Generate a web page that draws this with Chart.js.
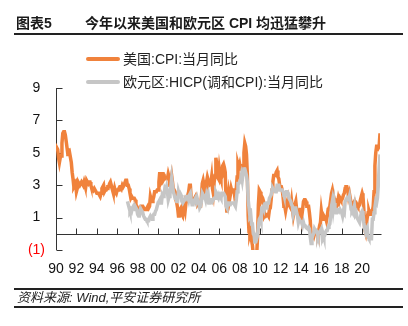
<!DOCTYPE html>
<html>
<head>
<meta charset="utf-8">
<script src="https://cdn.jsdelivr.net/npm/chart.js@4"></script>
<style>
  html, body { margin:0; padding:0; background:#fff; }
  body { width:408px; height:326px; position:relative; overflow:hidden;
         font-family:"Liberation Sans", Arial, "Noto Sans CJK SC", sans-serif; color:#1a1a1a; }
  #c { position:absolute; left:0; top:0; }
  .abs { position:absolute; white-space:nowrap; }
  .rule { position:absolute; background:#222; }
  .sw { position:absolute; height:4px; border-radius:2px; }
</style>
</head>
<body>
<canvas id="c" width="408" height="326"></canvas>

<div class="abs" style="left:16px;top:14px;font-weight:bold;font-size:14px;line-height:18px;">图表5</div>
<div class="abs" style="left:85px;top:14px;font-weight:bold;font-size:14px;line-height:18px;">今年以来美国和欧元区 CPI 均迅猛攀升</div>
<div class="rule" style="left:14px;top:33px;width:389px;height:2px;"></div>

<div class="sw" style="left:86px;top:57px;width:34px;background:#F0823C;"></div>
<div class="abs" id="lg1" style="left:123px;top:50px;font-size:14px;line-height:18px;color:#222;"></div>
<div class="sw" style="left:86px;top:80px;width:34px;background:#C6C6C6;"></div>
<div class="abs" id="lg2" style="left:123px;top:73px;font-size:14px;line-height:18px;color:#222;"></div>

<div class="rule" style="left:14px;top:288px;width:389px;height:2px;"></div>
<div class="abs" style="left:17px;top:290px;font-size:13px;line-height:16px;font-style:italic;color:#222;">资料来源: Wind,平安证券研究所</div>
<div class="rule" style="left:14px;top:306px;width:389px;height:2px;"></div>

<script>
// ---- Data ----
const seriesNames = ['美国:CPI:当月同比', '欧元区:HICP(调和CPI):当月同比'];
const usStartYear = 1990;   // monthly, from Jan
const euStartYear = 1997;   // monthly, from Jan
const usCpi = [
  5.2,5.3,5.2,4.7,4.4,4.7,4.8,5.6,6.2,6.3,6.3,6.1,
  5.7,5.3,4.9,4.9,5.0,4.7,4.4,3.8,3.4,2.9,3.0,3.1,
  2.6,2.8,3.2,3.2,3.0,3.1,3.2,3.1,3.0,3.2,3.0,2.9,
  3.3,3.2,3.1,3.2,3.2,3.0,2.8,2.8,2.7,2.8,2.7,2.7,
  2.5,2.5,2.5,2.4,2.3,2.5,2.8,2.9,3.0,2.6,2.7,2.7,
  2.8,2.9,2.9,3.1,3.2,3.0,2.8,2.6,2.5,2.8,2.6,2.5,
  2.7,2.7,2.8,2.9,2.9,2.8,3.0,2.9,3.0,3.0,3.3,3.3,
  3.0,3.0,2.8,2.5,2.2,2.3,2.2,2.2,2.2,2.1,1.8,1.7,
  1.6,1.4,1.4,1.4,1.7,1.7,1.7,1.6,1.5,1.5,1.5,1.6,
  1.7,1.6,1.7,2.3,2.1,2.0,2.1,2.3,2.6,2.6,2.6,2.7,
  2.7,3.2,3.8,3.1,3.2,3.7,3.7,3.4,3.5,3.4,3.4,3.4,
  3.7,3.5,2.9,3.3,3.6,3.2,2.7,2.7,2.6,2.1,1.9,1.6,
  1.1,1.1,1.5,1.6,1.2,1.1,1.5,1.8,1.5,2.0,2.2,2.4,
  2.6,3.0,3.0,2.2,2.1,2.1,2.1,2.2,2.3,2.0,1.8,1.9,
  1.9,1.7,1.7,2.3,3.1,3.3,3.0,2.7,2.5,3.2,3.5,3.3,
  3.0,3.0,3.1,3.5,2.8,2.5,3.2,3.6,4.7,4.3,3.5,3.4,
  4.0,3.6,3.4,3.5,4.2,4.3,4.1,3.8,2.1,1.3,2.0,2.5,
  2.1,2.4,2.8,2.6,2.7,2.7,2.4,2.0,2.8,3.5,4.3,4.1,
  4.3,4.0,4.0,3.9,4.2,5.0,5.6,5.4,4.9,3.7,1.1,0.1,
  0.0,0.2,-0.4,-0.7,-1.3,-1.4,-2.1,-1.5,-1.3,-0.2,1.8,2.7,
  2.6,2.1,2.3,2.2,2.0,1.1,1.2,1.1,1.1,1.2,1.1,1.5,
  1.6,2.1,2.7,3.2,3.6,3.6,3.6,3.8,3.9,3.5,3.4,3.0,
  2.9,2.9,2.7,2.3,1.7,1.7,1.4,1.7,2.0,2.2,1.8,1.7,
  1.6,2.0,1.5,1.1,1.4,1.8,2.0,1.5,1.2,1.0,1.2,1.5,
  1.6,1.1,1.5,2.0,2.1,2.1,2.0,1.7,1.7,1.7,1.3,0.8,
  -0.1,0.0,-0.1,-0.2,0.0,0.1,0.2,0.2,0.0,0.2,0.5,0.7,
  1.4,1.0,0.9,1.1,1.0,1.0,0.8,1.1,1.5,1.6,1.7,2.1,
  2.5,2.7,2.4,2.2,1.9,1.6,1.7,1.9,2.2,2.0,2.2,2.1,
  2.1,2.2,2.4,2.5,2.8,2.9,2.9,2.7,2.3,2.5,2.2,1.9,
  1.6,1.5,1.9,2.0,1.8,1.6,1.8,1.7,1.7,1.8,2.1,2.3,
  2.5,2.3,1.5,0.3,0.1,0.6,1.0,1.3,1.4,1.2,1.2,1.4,
  1.4,1.7,2.6,4.2,5.0,5.4,5.4,5.3,5.4,6.2
];
const euHicp = [
  2.0,1.8,1.6,1.4,1.5,1.4,1.6,1.7,1.6,1.5,1.6,1.5,
  1.2,1.1,1.1,1.4,1.3,1.4,1.3,1.1,1.0,0.9,0.9,0.8,
  0.8,0.8,1.0,1.1,1.0,0.9,1.1,1.2,1.2,1.4,1.5,1.7,
  1.9,2.0,2.1,1.9,1.9,2.4,2.3,2.4,2.8,2.7,2.9,2.6,
  2.1,2.3,2.4,2.9,3.4,3.0,2.6,2.4,2.2,2.3,2.0,2.0,
  2.6,2.4,2.5,2.4,2.0,1.9,2.0,2.1,2.1,2.3,2.3,2.3,
  2.1,2.4,2.5,2.1,1.8,1.9,1.9,2.1,2.2,2.0,2.2,2.0,
  1.9,1.6,1.7,2.0,2.5,2.4,2.3,2.3,2.1,2.4,2.2,2.4,
  1.9,2.1,2.1,2.1,2.0,2.1,2.2,2.2,2.6,2.5,2.3,2.2,
  2.4,2.3,2.2,2.5,2.5,2.5,2.4,2.3,1.7,1.6,1.9,1.9,
  1.8,1.8,1.9,1.9,1.9,1.9,1.8,1.7,2.1,2.6,3.1,3.1,
  3.2,3.3,3.6,3.3,3.7,4.0,4.0,3.8,3.6,3.2,2.1,1.6,
  1.1,1.2,0.6,0.6,0.0,-0.1,-0.6,-0.2,-0.3,-0.1,0.5,0.9,
  1.0,0.8,1.6,1.6,1.7,1.5,1.7,1.6,1.9,1.9,1.9,2.2,
  2.3,2.4,2.7,2.8,2.7,2.7,2.6,2.6,3.0,3.0,3.0,2.7,
  2.7,2.7,2.7,2.6,2.4,2.4,2.4,2.6,2.6,2.5,2.2,2.2,
  2.0,1.8,1.7,1.2,1.4,1.6,1.6,1.3,1.1,0.7,0.9,0.8,
  0.8,0.7,0.5,0.7,0.5,0.5,0.4,0.4,0.3,0.4,0.3,-0.2,
  -0.6,-0.3,-0.1,0.0,0.3,0.2,0.2,0.1,-0.1,0.1,0.1,0.2,
  0.3,-0.2,0.0,-0.2,-0.1,0.1,0.2,0.2,0.4,0.5,0.6,1.1,
  1.7,2.0,1.5,1.9,1.4,1.3,1.3,1.5,1.5,1.4,1.5,1.4,
  1.3,1.1,1.4,1.3,2.0,2.0,2.2,2.1,2.1,2.3,1.9,1.5,
  1.4,1.5,1.4,1.7,1.2,1.3,1.0,1.0,0.8,0.7,1.0,1.3,
  1.4,1.2,0.7,0.3,0.1,0.3,0.4,-0.2,-0.3,-0.3,-0.3,-0.3,
  0.9,0.9,1.3,1.6,2.0,1.9,2.2,3.0,4.1,4.9
];
const tickLabels = ['90','92','94','96','98','00','02','04','06','08','10','12','14','16','18','20'];
const yTickValues = [-1, 1, 3, 5, 7, 9];

// ---- build ----
const tickYears = tickLabels.map((_, i) => 1990 + 2 * i);
const toPoints = (arr, start) => arr.map((v, i) => ({ x: start + i / 12, y: v }));
document.getElementById('lg1').textContent = seriesNames[0];
document.getElementById('lg2').textContent = seriesNames[1];

const FONT = '"Liberation Sans", Arial, sans-serif';

const axesPlugin = {
  id: 'customAxes',
  beforeDatasetsDraw(chart) {
    const { ctx, chartArea: a, scales: { x, y } } = chart;
    ctx.save();
    ctx.strokeStyle = '#333';
    ctx.lineWidth = 1;
    ctx.beginPath();
    const ax = Math.round(a.left) + 0.5;
    ctx.moveTo(ax, y.getPixelForValue(9));
    ctx.lineTo(ax, y.getPixelForValue(-1));
    yTickValues.forEach(v => {
      const py = Math.round(y.getPixelForValue(v)) + 0.5;
      ctx.moveTo(ax, py); ctx.lineTo(ax + 6, py);
    });
    const y0 = Math.round(y.getPixelForValue(0)) + 0.5;
    ctx.moveTo(ax, y0); ctx.lineTo(a.right + 1.5, y0);
    tickYears.forEach(v => {
      if (v === 1990) return;
      const px = Math.round(x.getPixelForValue(v)) + 0.5;
      ctx.moveTo(px, y0); ctx.lineTo(px, y0 - 6);
    });
    ctx.stroke();
    ctx.restore();
  }
};

new Chart(document.getElementById('c'), {
  type: 'line',
  data: {
    datasets: [
      { label: seriesNames[0], data: toPoints(usCpi, usStartYear), borderColor: '#F0823C',
        borderWidth: 3.5, pointRadius: 0, tension: 0, order: 1 },
      { label: seriesNames[1], data: toPoints(euHicp, euStartYear), borderColor: '#C6C6C6',
        borderWidth: 3.5, pointRadius: 0, tension: 0, order: 0 }
    ]
  },
  options: {
    responsive: false,
    animation: false,
    events: [],
    layout: { padding: { left: 0, right: 28, top: 88, bottom: 50 } },
    plugins: { legend: { display: false }, tooltip: { enabled: false } },
    scales: {
      x: {
        type: 'linear', min: 1990, max: 2021.75,
        grid: { display: false, drawTicks: false }, border: { display: false },
        afterBuildTicks: s => { s.ticks = tickYears.map(v => ({ value: v })); },
        afterFit: s => { s.height = 26; },
        ticks: {
          padding: 11, maxRotation: 0, autoSkip: false, color: '#111',
          font: { family: FONT, size: 14 },
          callback: (v, i) => tickLabels[i]
        }
      },
      y: {
        min: -1, max: 9,
        grid: { display: false, drawTicks: false }, border: { display: false },
        afterBuildTicks: s => { s.ticks = yTickValues.map(v => ({ value: v })); },
        afterFit: s => { s.width = 56; },
        ticks: {
          padding: 11, color: c => (c.tick && c.tick.value < 0 ? '#FF0000' : '#111'),
          font: { family: FONT, size: 14 },
          callback: v => (v < 0 ? '(' + Math.abs(v) + ')' : v + '\u2004')
        }
      }
    }
  },
  plugins: [axesPlugin]
});
</script>
</body>
</html>
